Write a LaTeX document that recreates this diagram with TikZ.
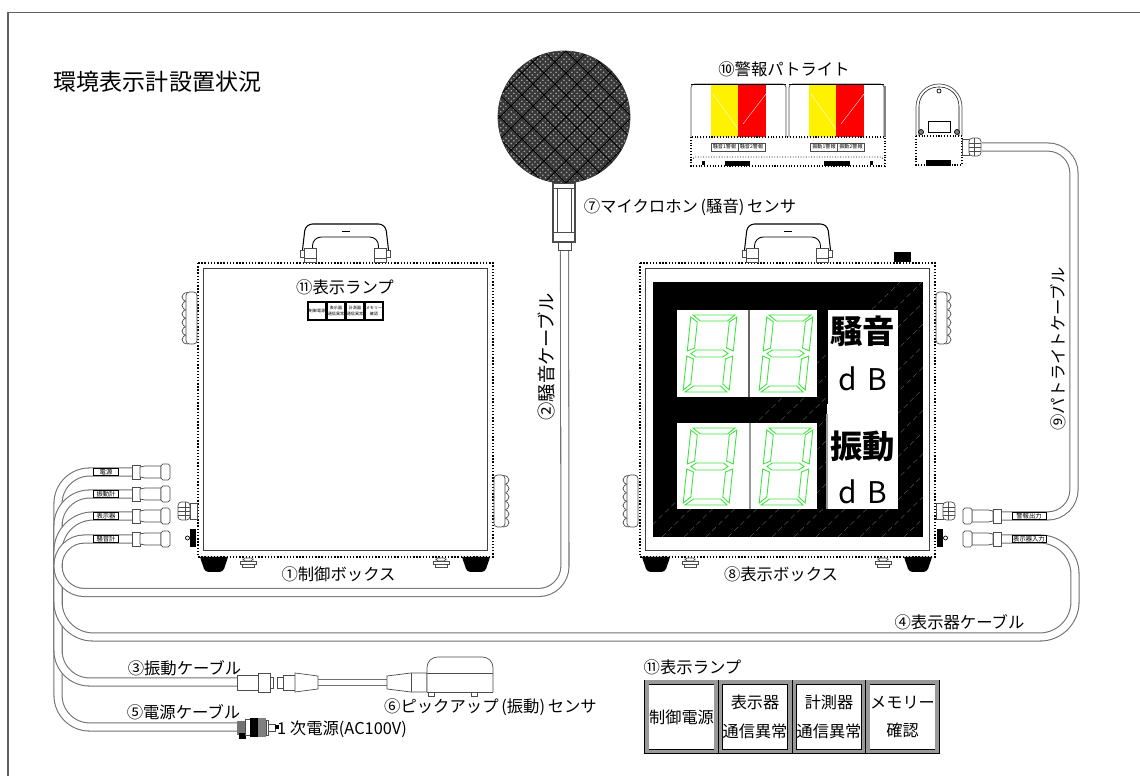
\documentclass[tikz,border=0pt]{standalone}
\usepackage{fontspec}
\setmainfont{Noto Sans CJK JP}
\usetikzlibrary{patterns}
\definecolor{cableline}{HTML}{707070}
\definecolor{frameline}{HTML}{606060}
\definecolor{segment}{HTML}{3CE63C}
\tikzset{
    lbl/.style={inner sep=0pt, font=\fontsize{9.3}{11}\selectfont},
    cable/.style={draw=cableline, line width=.6pt, double=white, double distance=4pt, rounded corners=15pt},
    part/.style={draw=black!70, line width=.4pt, fill=white},
    tag/.style={draw, fill=white, inner sep=0pt, minimum width=.5cm, minimum height=.14cm, font=\fontsize{3.6}{4}\selectfont},
    lamptag/.style={draw=black!70, fill=white, inner sep=0pt, minimum width=.54cm, minimum height=.16cm, font=\fontsize{2.9}{3}\selectfont},
    minilamp/.style={draw, line width=.9pt, fill=white, inner sep=0pt, align=center, minimum width=.36cm, minimum height=.35cm, font=\fontsize{2.3}{3}\selectfont},
    lamp/.style={draw=black, double=black!40, double distance=2pt, line width=.4pt, fill=white, inner sep=0pt, align=center, minimum width=1.39cm, minimum height=1.39cm, font=\fontsize{9.2}{16.4}\selectfont},
    panelword/.style={inner sep=0pt, font=\fontsize{18.4}{20}\selectfont\bfseries},
    panelunit/.style={inner sep=0pt, font=\fontsize{17}{18}\selectfont},
    pics/conn/.style={code={
        \draw[part] (-1,-7) rectangle (7,7);
        \draw[part] (7,-5) -- (12,-6) -- (28,-6) -- (28,6) -- (12,6) -- (7,5) -- cycle;
        \draw[part, rounded corners=1pt] (28,-8) rectangle (37,8);
    }},
    pics/gland/.style={code={
        \draw[part] (0,-8) rectangle (7,8);
        \draw[part, rounded corners=2pt] (7,-9) rectangle (19,9);
        \draw[black!70, line width=.4pt] (7,-4) -- (19,-4) (7,0) -- (19,0) (7,4) -- (19,4) (12,-9) -- (12,9);
    }},
    pics/sidetab/.style={code={
        \fill (1,-9) rectangle (7,9);
        \draw[fill=white] (9.5,0) circle[radius=2];
    }},
    pics/knob/.style={code={
        \foreach \i in {5,13.5,22,30.5,39,47.5} {
            \draw[part] (9,\i-4.5) .. controls (17,\i-4.5) and (17,\i+4.5) .. (9,\i+4.5);
        }
        \draw[part, rounded corners=2pt] (0,0) rectangle (11,52);
    }},
    pics/foot/.style={code={
        \fill[rounded corners=2pt] (0,0) -- (5,15) -- (23,15) -- (28,0) -- cycle;
        \fill (0,0) -- (1.5,4.5) -- (26.5,4.5) -- (28,0) -- cycle;
    }},
    pics/clamp/.style={code={
        \draw[part, rounded corners=1pt] (-5,0) rectangle (5,3);
        \draw[part] (-8,3) rectangle (8,6);
        \draw[part] (-6,6) rectangle (6,9);
    }},
    pics/handle/.style={code={
        \draw[line width=.6pt, rounded corners=4pt] (-43,-12) -- (-40,-38) -- (40,-38) -- (43,-12);
        \draw[line width=.5pt, rounded corners=5pt] (-33,-12) -- (-33,-25) -- (33,-25) -- (33,-12);
        \fill (-4,-31) rectangle (4,-29.5);
        \draw[part] (-45,-12) rectangle (-41,-5);
        \draw[part] (-41,-14) rectangle (-29,0);
        \draw[part] (41,-12) rectangle (45,-5);
        \draw[part] (29,-14) rectangle (41,0);
        \draw[black!70, line width=.4pt] (-41,-4) -- (-29,-4) (29,-4) -- (41,-4);
    }},
    pics/enclosure/.style={code={
        \draw[line width=.8pt, densely dotted] (0,0) rectangle (295,294);
        \draw[black!75, line width=.45pt] (5,5) rectangle (289,287);
        \pic at (2,294) {foot};
        \pic at (264,294) {foot};
        \pic at (50,295) {clamp};
        \pic at (243,295) {clamp};
        \pic at (147.5,-1) {handle};
    }},
    pics/digit/.style={code={
        \begin{scope}[xslant=.104, draw=segment, line width=.5pt]
            \draw (3,-77) -- (45,-77) -- (38,-71) -- (11,-71) -- cycle;
            \draw (5,-38.5) -- (10,-42) -- (37,-42) -- (42,-38.5) -- (37,-35) -- (10,-35) -- cycle;
            \draw (3,0) -- (45,0) -- (38,-6) -- (11,-6) -- cycle;
            \draw (1,-41) -- (1,-75) -- (8,-70) -- (8,-44) -- cycle;
            \draw (47,-41) -- (47,-75) -- (40,-70) -- (40,-44) -- cycle;
            \draw (1,-2) -- (1,-36) -- (8,-33) -- (8,-8) -- cycle;
            \draw (47,-2) -- (47,-36) -- (40,-33) -- (40,-8) -- cycle;
        \end{scope}
    }},
    pics/lightunit/.style={code={
        \draw[part, rounded corners=2pt] (0,53) -- (0,0) -- (95,0) -- (95,53);
        \fill[yellow] (20,0) rectangle (47,53);
        \fill[red] (47,0) rectangle (75,53);
        \draw[white, very thin] (22,10) -- (47,45) (52,40) -- (75,10);
        \draw (0,0) -- (95,0);
    }}
}
\begin{document}
\begin{tikzpicture}[x=.02cm, y=-.02cm]
    \useasboundingbox (0,0) rectangle (1140,776);
    \draw[frameline, line width=.7pt] (1140,12.5) -- (8,12.5) -- (8,776);

    \coordinate (powerend) at (133,472);
    \coordinate (vibend) at (133,494);
    \coordinate (dispend) at (133,516);
    \coordinate (noiseend) at (133,539);
    \coordinate (plugend) at (238,727);
    \coordinate (pickupend) at (238,682);
    \coordinate (micend) at (564.5,248);
    \coordinate (alarmend) at (1000,516);
    \coordinate (inputend) at (1000,539);
    \coordinate (beaconend) at (982,147);
    \draw[cable, rounded corners=18pt] (powerend) -- (58,472) -- (58,727) -- (plugend);
    \draw[cable, rounded corners=18pt] (vibend) -- (58,494) -- (58,682) -- (pickupend);
    \draw[cable, rounded corners=20pt] (dispend) -- (58,516) -- (58,637) -- (1075,637) -- (1075,539) -- (inputend);
    \draw[cable] (noiseend) -- (58,539) -- (58,592.5) -- (565,592.5) -- (micend);
    \draw[cable] (beaconend) -- (1074,147) -- (1074,516) -- (alarmend);

    \node[tag] (tagpower) at (106,472) {電源};
    \node[tag] (tagvib) at (106,494) {振動計};
    \node[tag] (tagdisp) at (106,516) {表示器};
    \node[tag] (tagnoise) at (106,539) {騒音計};
    \node[tag, minimum width=.68cm] (tagalarm) at (1029,516) {警報出力};
    \node[tag, minimum width=.68cm] (taginput) at (1029,539) {表示器入力};
    \pic at (powerend) {conn};
    \pic at (vibend) {conn};
    \pic at (dispend) {conn};
    \pic at (noiseend) {conn};
    \pic[xscale=-1] at (alarmend) {conn};
    \pic[xscale=-1] at (inputend) {conn};

    \pic at (198,263) {enclosure};
    \pic[xscale=-1] at (197,292) {knob};
    \pic at (494,475) {knob};
    \pic[xscale=-1] at (197,511) {gland};
    \pic[xscale=-1] at (197,538) {sidetab};
    \node[minilamp] (miniA) at (317,311) {制御電源};
    \node[minilamp] (miniB) at (336,311) {表示器\\通信異常};
    \node[minilamp] (miniC) at (355,311) {計測器\\通信異常};
    \node[minilamp] (miniD) at (374,311) {メモリー\\確認};

    \pic at (640,263) {enclosure};
    \pic[xscale=-1] at (638,475) {knob};
    \pic at (936,292) {knob};
    \pic at (936,511) {gland};
    \pic at (936,538) {sidetab};
    \fill (894,252) rectangle (911,262);
    \fill (653,282) rectangle (923,537);
    \begin{scope}
        \clip (653,282) rectangle (923,537);
        \foreach \i in {640,662,...,1200} {
            \draw[black!60, line width=.2pt, densely dashed] (\i,537) -- (\i+260,282);
        }
    \end{scope}
    \fill[white] (677,310) rectangle (817,397);
    \fill[white] (677,423) rectangle (817,509);
    \fill[white] (827,310) rectangle (898,509);
    \draw[black!60, line width=.7pt] (749,310) -- (749,397);
    \draw[black!40, line width=.7pt] (750,423) -- (750,509);
    \draw[black, line width=.6pt] (827,310) -- (827,404);
    \draw[black!40, line width=.7pt] (827,414) -- (827,509);
    \pic at (682,392) {digit};
    \pic at (758,392) {digit};
    \pic at (682,505) {digit};
    \pic at (758,505) {digit};
    \node[panelword] (noisetext) at (862.5,331) {騒音};
    \node[panelunit] (noiseunit) at (863,379) {d\,\,B};
    \node[panelword] (vibtext) at (862.5,446) {振動};
    \node[panelunit] (vibunit) at (863,492) {d\,\,B};

    \draw[part, line width=.6pt] (553,183) rectangle (575,242);
    \draw[black!70, line width=.4pt] (553,188) -- (575,188) (553,232) -- (575,232) (557,188) -- (557,232) (571,188) -- (571,232);
    \draw[part] (558,242) rectangle (571,250);
    \draw[fill=black!78, draw=black!80] (564,117) circle[radius=66];
    \begin{scope}
        \clip (564,117) circle[radius=66];
        \fill[pattern=crosshatch dots, pattern color=black!35] (498,51) rectangle (630,183);
        \foreach \i in {-130,-108,...,130} {
            \draw[black, line width=.5pt] (564+\i-70,187) -- (564+\i+70,47);
            \draw[black, line width=.5pt] (564+\i-70,47) -- (564+\i+70,187);
        }
    \end{scope}

    \pic at (691,84) {lightunit};
    \pic at (789,84) {lightunit};
    \draw[black!50, line width=.9pt] (885,86) -- (885,137);
    \draw[densely dotted, line width=.6pt] (691,137) rectangle (885,166);
    \draw[densely dotted, line width=.5pt] (691,160) -- (695,157) -- (881,157) -- (885,160);
    \node[lamptag] (lampA) at (724.5,147) {騒音1警報};
    \node[lamptag] (lampB) at (751.5,147) {騒音2警報};
    \node[lamptag] (lampC) at (824,147) {振動1警報};
    \node[lamptag] (lampD) at (851,147) {振動2警報};
    \fill (725,161) rectangle (750,166);
    \fill (824,161) rectangle (850,166);
    \fill (702,161) rectangle (705,165);
    \fill (870,161) rectangle (873,165);

    \draw[part, rounded corners=13pt] (916,136) -- (916,84) -- (962,84) -- (962,136);
    \draw[line width=.3pt, rounded corners=11pt] (919,136) -- (919,87) -- (959,87) -- (959,136);
    \draw[line width=.4pt] (939,91) circle[radius=2];
    \draw[line width=.4pt] (928,121) rectangle (950,132);
    \draw[fill=black!50, line width=.4pt] (921,132) circle[radius=2.5];
    \draw[fill=black!50, line width=.4pt] (957,132) circle[radius=2.5];
    \draw[densely dotted, line width=.6pt] (916,136) rectangle (962,165);
    \fill (926,160) rectangle (951,166);
    \pic at (962,147) {gland};

    \draw[part] (237,675) rectangle (258,690);
    \draw[part] (258,673) rectangle (270,692);
    \draw[part] (270,677) rectangle (273,688);
    \draw[part] (277,677) rectangle (283,688);
    \draw[part] (283,675) rectangle (295,690);
    \coordinate (pluga) at (318,682.5);
    \coordinate (plugb) at (387,682.5);
    \draw[draw=cableline, line width=.5pt, double=white, double distance=2.8pt] (pluga) -- (plugb);
    \draw[part] (295,673) -- (318,676) -- (318,689) -- (295,692) -- cycle;
    \draw[part] (387,676) -- (411,673) -- (427,673) -- (427,692) -- (411,692) -- (387,689) -- cycle;
    \draw[black!70, line width=.4pt] (411,673) -- (411,692);
    \draw[part] (428,692) rectangle (434,696);
    \draw[part] (471,692) rectangle (477,696);
    \draw[part, rounded corners=6pt] (427,692) -- (427,657) -- (493,657) -- (493,692);
    \draw[black!70, line width=.4pt] (427,692) -- (493,692) (427,673) -- (493,673);

    \fill[black!55] (237,721) rectangle (245,735);
    \fill (239,733) rectangle (246,739);
    \draw[part] (245,719) rectangle (250,735);
    \fill (250,718) rectangle (258,737);
    \fill[black!50] (258,718) rectangle (266,737);
    \draw[part] (266,720) rectangle (268,735);
    \draw[part] (268,724) rectangle (275,731);
    \fill (275,725.5) rectangle (279,729.5);

    \node[lamp] (lampmain) at (681.5,717) {制御電源};
    \node[lamp] (lampdisp) at (755,717) {表示器\\通信異常};
    \node[lamp] (lampmeas) at (829,717) {計測器\\通信異常};
    \node[lamp] (lampmem) at (902.5,717) {メモリー\\確認};

    \node[lbl, font=\fontsize{13.1}{15}\selectfont] (title) at (157.5,82) {環境表示計設置状況};
    \node[lbl] (lblbeacon) at (784,69) {⑩警報パトライト};
    \node[lbl] (lblmic) at (690,207) {⑦マイクロホン\,(騒音)\,センサ};
    \node[lbl, rotate=90, font=\fontsize{10.4}{12}\selectfont] (lblnoise) at (546,357) {②騒音ケーブル};
    \node[lbl, rotate=90] (lblbeaconc) at (1058,349) {⑨パトライトケーブル};
    \node[lbl] (lblmini) at (345,287) {⑪表示ランプ};
    \node[lbl] (lblctrl) at (338.5,574) {①制御ボックス};
    \node[lbl] (lbldisp) at (781,574) {⑧表示ボックス};
    \node[lbl] (lbldispc) at (959.5,622) {④表示器ケーブル};
    \node[lbl] (lblvib) at (184.5,668) {③振動ケーブル};
    \node[lbl] (lblpower) at (183.5,712) {⑤電源ケーブル};
    \node[lbl] (lblmains) at (342,729) {1 次電源(AC100V)};
    \node[lbl] (lblpickup) at (490.5,707) {⑥ピックアップ\,(振動)\,センサ};
    \node[lbl] (lbllamp) at (692.5,667) {⑪表示ランプ};
\end{tikzpicture}
\end{document}
